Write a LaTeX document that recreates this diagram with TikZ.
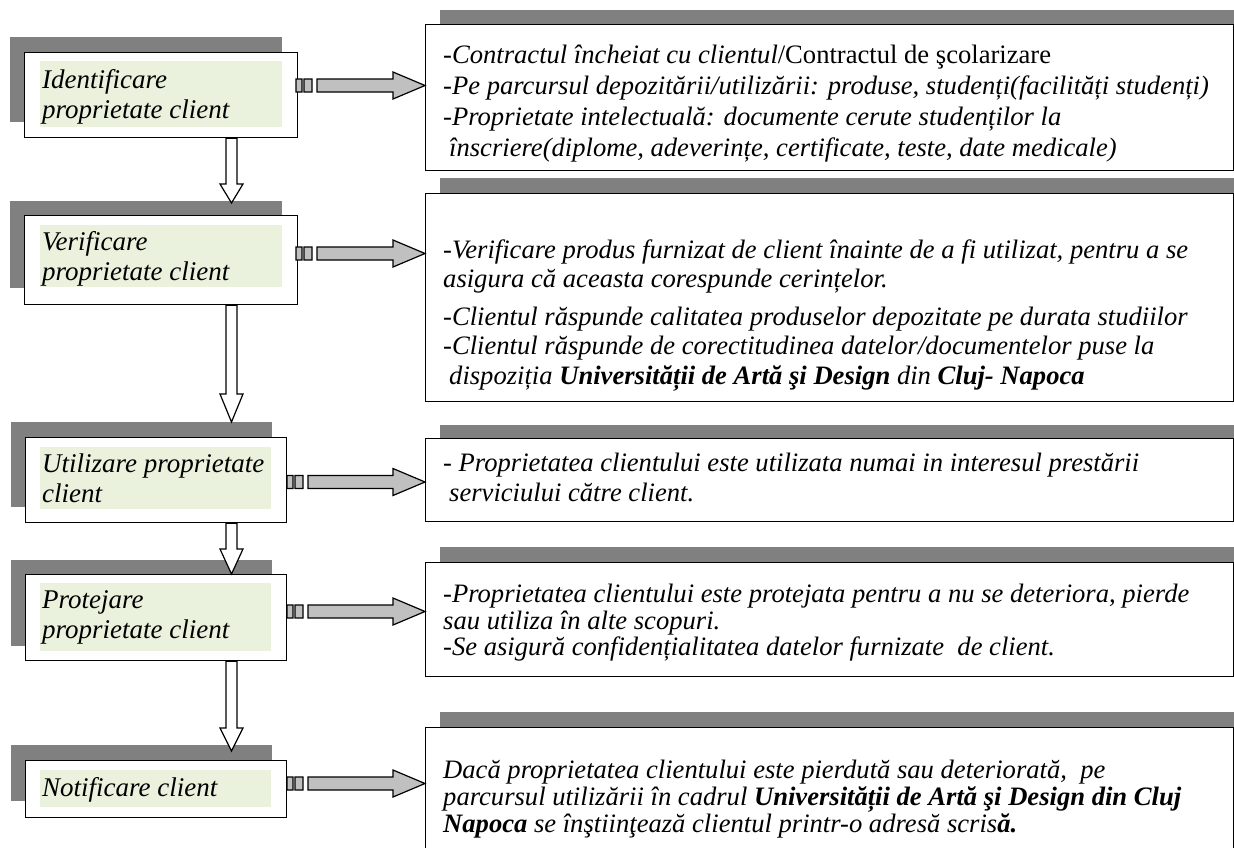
\documentclass[tikz,border=0pt]{standalone}
\usepackage{fontspec}
\setmainfont{Liberation Serif}
\usetikzlibrary{calc}
\definecolor{shade}{HTML}{808080}
\definecolor{arrfill}{HTML}{C0C0C0}
\definecolor{greenbg}{HTML}{EAF1DD}
\tikzset{
  shadowbar/.style={fill=shade, draw=none},
  lbox/.style={draw=black, line width=1.3pt, fill=white, anchor=north west, inner sep=0pt},
  gbox/.style={fill=greenbg, draw=none, anchor=north west, inner sep=0pt},
  rbox/.style={draw=black, line width=1.4pt, fill=white, anchor=north west, inner sep=0pt},
  ltext/.style={anchor=north west, inner sep=0pt, align=left, font=\fontsize{27}{30}\selectfont\itshape},
  rtext/.style={anchor=north west, inner sep=0pt, align=left, font=\fontsize{26.6}{30}\selectfont\itshape},
  rarr/.style={draw=black, line width=1.2pt, fill=arrfill, line join=miter},
  darr/.style={draw=black, line width=1.2pt, fill=white, line join=miter},
}
\newcommand\dnarr[3]{%
  \draw[darr] let \p1=(#1), \p2=(#2) in
   (\x1-5.5pt,\y1) -- (\x1-5.5pt,\y2+#3) -- (\x1-11.5pt,\y2+#3) -- (\x1,\y2)
   -- (\x1+11.5pt,\y2+#3) -- (\x1+5.5pt,\y2+#3) -- (\x1+5.5pt,\y1) -- cycle;}
\newcommand\rtarr[2]{%
  \draw[rarr] let \p1=(#1), \p2=(#2) in
   (\x1,\y1-6.5pt) rectangle (\x1+6pt,\y1+6.5pt)
   (\x1+8pt,\y1-6.5pt) rectangle (\x1+16pt,\y1+6.5pt)
   (\x1+21pt,\y1-6.5pt) -- (\x2-32pt,\y1-6.5pt) -- (\x2-32pt,\y1-13.5pt) -- (\x2,\y1)
   -- (\x2-32pt,\y1+13.5pt) -- (\x2-32pt,\y1+6.5pt) -- (\x1+21pt,\y1+6.5pt) -- cycle;}
\begin{document}
\begin{tikzpicture}[x=1pt,y=-1pt]
\useasboundingbox (0,0) rectangle (1234,847);
\fill[white] (0,0) rectangle (1234,847);
% left shadows
\fill[shadowbar] (10,37) rectangle (282,122);
\fill[shadowbar] (10,201) rectangle (282,288);
\fill[shadowbar] (11,422) rectangle (272,507);
\fill[shadowbar] (11,560) rectangle (272,646);
\fill[shadowbar] (11,745) rectangle (272,801);
% right shadows
\fill[shadowbar] (440,10) rectangle (1234,24);
\fill[shadowbar] (440,178) rectangle (1234,193);
\fill[shadowbar] (440,425) rectangle (1234,439);
\fill[shadowbar] (440,547) rectangle (1234,562);
\fill[shadowbar] (440,712) rectangle (1234,727);
% right boxes
\node[rbox, minimum width=808pt, minimum height=146pt] (R1) at (425,24) {};
\node[rbox, minimum width=808pt, minimum height=208pt] (R2) at (425,193) {};
\node[rbox, minimum width=808pt, minimum height=83pt] (R3) at (425,438) {};
\node[rbox, minimum width=808pt, minimum height=114pt] (R4) at (425,562) {};
\node[rbox, minimum width=808pt, minimum height=124pt] (R5) at (425,727) {};
% left boxes
\node[lbox, minimum width=273pt, minimum height=85pt] (L1) at (24,52) {};
\node[lbox, minimum width=273pt, minimum height=89pt] (L2) at (24,215) {};
\node[lbox, minimum width=261pt, minimum height=85pt] (L3) at (25,437) {};
\node[lbox, minimum width=261pt, minimum height=86pt] (L4) at (25,574) {};
\node[lbox, minimum width=261pt, minimum height=57pt] (L5) at (25,760) {};
% green fields
\node[gbox, minimum width=242pt, minimum height=66pt] (G1) at (40,61) {};
\node[gbox, minimum width=242pt, minimum height=62pt] (G2) at (40,225) {};
\node[gbox, minimum width=231pt, minimum height=62pt] (G3) at (40,447) {};
\node[gbox, minimum width=231pt, minimum height=68pt] (G4) at (40,583) {};
\node[gbox, minimum width=231pt, minimum height=37pt] (G5) at (40,770) {};
% left texts
\node[ltext] (T1) at (42,67) {\strut Identificare\\proprietate client};
\node[ltext] (T2) at (42,229) {\strut Verificare\\proprietate client};
\node[ltext] (T3) at (42,451) {\strut Utilizare proprietate\\client};
\node[ltext] (T4) at (42,587) {\strut Protejare\\proprietate client};
\node[ltext] (T5) at (42,775) {\strut Notificare client};
% down arrows
\coordinate (d1s) at (231.5,137);  \coordinate (d1e) at (231.5,203);
\coordinate (d2s) at (231.5,304);  \coordinate (d2e) at (231.5,422);
\coordinate (d3s) at (231.5,522);  \coordinate (d3e) at (231.5,573);
\coordinate (d4s) at (231.5,660);  \coordinate (d4e) at (231.5,751);
\dnarr{d1s |- L1.south}{d1e}{19pt}
\dnarr{d2s |- L2.south}{d2e}{28pt}
\dnarr{d3s |- L3.south}{d3e |- L4.north}{25pt}
\dnarr{d4s |- L4.south}{d4e}{23pt}
% right arrows
\coordinate (a1) at (296,85.5);
\coordinate (a2) at (296,253.5);
\coordinate (a3) at (287,482);
\coordinate (a4) at (287,611.5);
\coordinate (a5) at (287,783.5);
\rtarr{a1}{R1.west}
\rtarr{a2}{R2.west}
\rtarr{a3}{R3.west}
\rtarr{a4}{R4.west}
\rtarr{a5}{R5.west}
% right texts
\node[rtext, font=\fontsize{26.6}{31}\selectfont\itshape] (U1) at (443,41.3) {\strut -Contractul încheiat cu clientul{\upshape/Contractul de şcolarizare}\\
-Pe parcursul depozitării/utilizării: produse, studenți(facilități studenți)\\
-Proprietate intelectuală: documente cerute studenților la\\
\hspace*{6pt}înscriere(diplome, adeverințe, certificate, teste, date medicale)};
\node[rtext, font=\fontsize{26.6}{29.5}\selectfont\itshape] (U2) at (443,237.35) {\strut -Verificare produs furnizat de client înainte de a fi utilizat, pentru a se\\
asigura că aceasta corespunde cerințelor.\\[8pt]
-Clientul răspunde calitatea produselor depozitate pe durata studiilor\\
-Clientul răspunde de corectitudinea datelor/documentelor puse la\\
\hspace*{6pt}dispoziția {\bfseries Universității de Artă şi Design} din {\bfseries Cluj- Napoca}};
\node[rtext] (U3) at (443,450) {\strut - Proprietatea clientului este utilizata numai in interesul prestării\\
\hspace*{6pt}serviciului către client.};
\node[rtext, font=\fontsize{26.6}{27.5}\selectfont\itshape] (U4) at (443,582.75) {\strut -Proprietatea clientului este protejata pentru a nu se deteriora, pierde\\
sau utiliza în alte scopuri.\\[-2pt]
-Se asigură confidențialitatea datelor furnizate \ de client.};
\node[rtext, font=\fontsize{26.6}{26.5}\selectfont\itshape] (U5) at (443,759.45) {\strut Dacă proprietatea clientului este pierdută sau deteriorată, \ pe\\
parcursul utilizării în cadrul {\bfseries Universității de Artă şi Design din Cluj}\\
{\bfseries Napoca} se înştiinţează clientul printr-o adresă scris{\bfseries ă.}};
\end{tikzpicture}
\end{document}
